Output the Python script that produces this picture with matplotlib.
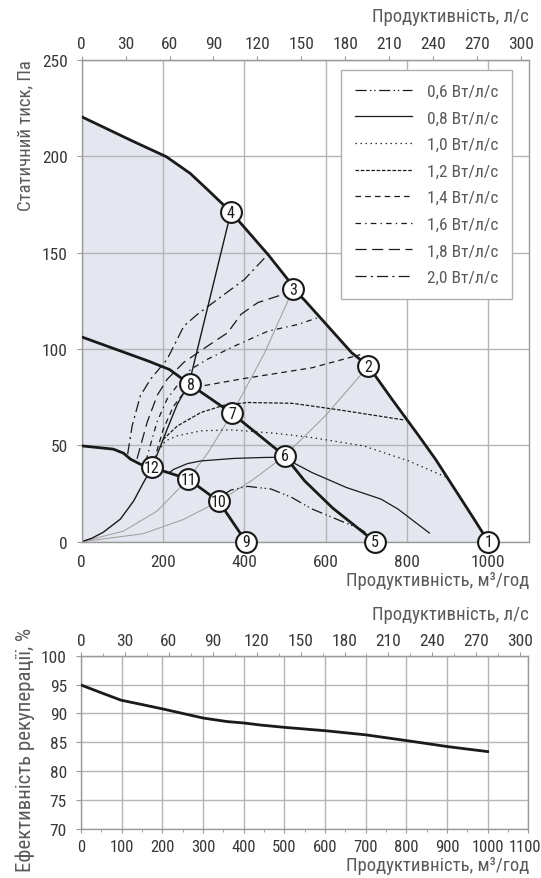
import matplotlib
matplotlib.use('Agg')
import matplotlib.pyplot as plt
from matplotlib import font_manager as fm
from matplotlib.ticker import MultipleLocator
from matplotlib.transforms import ScaledTranslation

# ---------------- font selection ----------------
_fl = fm.fontManager.ttflist
_names = {f.name for f in _fl}
_stretch = 'normal'
if 'Roboto Condensed' in _names:
    _font = 'Roboto Condensed'
elif 'Liberation Sans Narrow' in _names:
    _font = 'Liberation Sans Narrow'
elif any(f.name == 'DejaVu Sans' and f.stretch == 'condensed' for f in _fl):
    _font = 'DejaVu Sans'
    _stretch = 'condensed'
else:
    _font = 'Roboto'
plt.rcParams['font.family'] = [_font, 'DejaVu Sans']
plt.rcParams['font.stretch'] = _stretch
plt.rcParams['lines.scale_dashes'] = False

# ---------------- data ----------------
# upper envelope (max speed)
env1_x = [0, 123, 208, 267, 310, 367, 458, 507, 522, 548, 664, 705, 763, 829, 870, 965, 1000]
env1_y = [220.4, 208, 199.7, 191, 182.5, 171, 149, 136, 130.8, 125.3, 98, 91.1, 73.9, 54.9, 42.8, 11.7, 0]
# middle envelope
env2_x = [0, 165, 216, 266, 370, 499, 548, 617, 721]
env2_y = [106.2, 93.6, 89.3, 81.6, 66.5, 44.5, 31.6, 17.5, 0]
# lower envelope
env3_x = [0, 78, 103, 120, 144, 173, 262, 337, 404]
env3_y = [49.7, 48, 45.9, 42.8, 40.2, 38.5, 32.5, 20.9, 0]

# system curves (thin grey)
sys1_x = [0, 103, 186, 262, 310, 370, 450, 520]
sys1_y = [0, 5.5, 16, 32.5, 46, 66.5, 98, 131]
sys2_x = [0, 150, 250, 337, 420, 499, 600, 705]
sys2_y = [0, 4.1, 11.5, 20.9, 32, 44.5, 65.5, 91.1]
# thin black curve 12-8-4
sysb_x = [0, 25, 53, 95, 128, 152, 173, 210, 235, 264, 367]
sysb_y = [0, 1.8, 4.9, 11.7, 21.2, 30.7, 38.5, 58.3, 71.3, 82, 171]

# specific fan power lines
sfp_labels = ['0,6 Вт/л/с', '0,8 Вт/л/с', '1,0 Вт/л/с', '1,2 Вт/л/с',
              '1,4 Вт/л/с', '1,6 Вт/л/с', '1,8 Вт/л/с', '2,0 Вт/л/с']
sfp06_x = [350, 367, 408, 466, 516, 566, 685, 700]
sfp06_y = [24.5, 26.8, 28.7, 27.3, 23, 17, 6.6, 4.5]
sfp08_x = [215, 227, 260, 293, 375, 450, 499, 520, 566, 651, 736, 778, 855]
sfp08_y = [35.8, 37.6, 40.5, 41.9, 43.2, 43.7, 43.8, 41, 35.9, 28.1, 22.1, 16.9, 4.5]
sfp10_x = [195, 206, 235, 293, 367, 474, 566, 693, 804, 898]
sfp10_y = [49.0, 52.3, 54.9, 57.5, 58, 56.3, 54, 49.7, 41.9, 33.3]
sfp12_x = [200, 235, 293, 350, 408, 516, 566, 651, 791]
sfp12_y = [53.0, 60, 67, 70.8, 72.2, 71.8, 70.4, 67.8, 63.2]
sfp14_x = [178, 200, 225, 250, 270, 289, 395, 566, 685]
sfp14_y = [42, 58, 70, 77, 79.5, 80.5, 84.5, 90.2, 97]
sfp16_x = [158, 185, 210, 235, 268, 309, 375, 458, 532, 585]
sfp16_y = [42, 62, 74, 81, 89.4, 94.6, 101.4, 109.2, 112.7, 116.5]
sfp18_x = [136, 161, 186, 210, 251, 309, 359, 392, 433, 491, 520]
sfp18_y = [43, 62, 76, 84.2, 93, 101.4, 108.4, 118, 124, 128, 131]
sfp20_x = [113, 124, 144, 169, 210, 235, 251, 285, 400, 458]
sfp20_y = [45.4, 60, 75.6, 84.2, 94.6, 105, 111.8, 118, 136, 149]

# numbered operating points
pt_x = [1000, 705, 520, 367, 721, 499, 370, 266, 404, 337, 262, 173]
pt_y = [0, 91.1, 131, 171, 0, 44.5, 66.5, 81.6, 0, 20.9, 32.5, 38.5]
pt_lbl = ['1', '2', '3', '4', '5', '6', '7', '8', '9', '10', '11', '12']

# heat recovery efficiency
eff_x = [0, 47, 98.5, 153, 200, 244, 301, 359, 401, 441, 500, 603, 700, 801, 903, 1000]
eff_y = [94.93, 93.66, 92.3, 91.5, 90.8, 90.1, 89.2, 88.6, 88.35, 88.0, 87.6, 87.0, 86.3, 85.3, 84.25, 83.4]

pres_ticks = [0, 50, 100, 150, 200, 250]
flow_ticks_top = [0, 200, 400, 600, 800, 1000]
ls_ticks = list(range(0, 301, 30))
flow_ticks_bot = list(range(0, 1101, 100))
eff_ticks = [70, 75, 80, 85, 90, 95, 100]

label_ls = 'Продуктивність, л/с'
label_m3 = 'Продуктивність, м³/год'
label_p = 'Статичний тиск, Па'
label_eff = 'Ефективність рекуперації, %'

# ---------------- styles ----------------
GRID = '#b5b5b5'
SPINE = '#9a9a9a'
TXT = '#383838'
LAB = '#5a5a5a'
FILL = '#e4e7ef'
FS_TICK = 12.5
FS_LAB = 13.5

sfp_styles = [(0, (8, 2.5, 1, 2, 1, 2.5)), '-', (0, (1, 2.6)), (0, (2.6, 1.2)),
              (0, (4, 3)), (0, (4, 3, 1, 3)), (0, (8, 4)), (0, (8, 3, 1.5, 3))]

W, H = 541, 879
fig = plt.figure(figsize=(W / 100, H / 100), dpi=100)

# ---------------- top chart ----------------
ax = fig.add_axes([81.7 / W, 1 - 542.7 / H, 447.3 / W, 482 / H])
ax.set_xlim(0, 1100)
ax.set_ylim(0, 250)
ax.set_axisbelow(True)
ax.fill_between(env1_x, env1_y, 0, color=FILL, lw=0, zorder=0.2)
ax.set_xticks(flow_ticks_top)
ax.set_yticks(pres_ticks)
ax.grid(True, color=GRID, lw=1.0)
for s in ax.spines.values():
    s.set_color(SPINE)
    s.set_linewidth(1.0)
ax.tick_params(axis='x', length=0, pad=9, labelsize=FS_TICK, labelcolor=TXT)
ax.tick_params(axis='y', length=3.6, color=SPINE, pad=6.5, labelsize=FS_TICK, labelcolor=TXT)

ax.plot(sys1_x, sys1_y, color='#a0a0a0', lw=0.75, zorder=2)
ax.plot(sys2_x, sys2_y, color='#a0a0a0', lw=0.75, zorder=2)
ax.plot(sysb_x, sysb_y, color='#1a1a1a', lw=1.0, zorder=2)

sfp_x = [sfp06_x, sfp08_x, sfp10_x, sfp12_x, sfp14_x, sfp16_x, sfp18_x, sfp20_x]
sfp_y = [sfp06_y, sfp08_y, sfp10_y, sfp12_y, sfp14_y, sfp16_y, sfp18_y, sfp20_y]
handles = []
for xs, ys, st, lb in zip(sfp_x, sfp_y, sfp_styles, sfp_labels):
    h, = ax.plot(xs, ys, color='#1a1a1a', lw=0.9, ls=st, label=lb, zorder=3)
    handles.append(h)

for ex, ey in [(env1_x, env1_y), (env2_x, env2_y), (env3_x, env3_y)]:
    ax.plot(ex, ey, color='#1a1a1a', lw=2.0, zorder=4, solid_capstyle='round')

ax.plot(pt_x, pt_y, ls='none', marker='o', ms=15, mfc='white', mec='#1a1a1a',
        mew=1.5, zorder=5, clip_on=False)
for x, y, t in zip(pt_x, pt_y, pt_lbl):
    ax.text(x, y, t, ha='center', va='center', fontsize=11.5, color='#1a1a1a',
            zorder=6, clip_on=False)

leg = ax.legend(handles=handles, loc='upper right', bbox_to_anchor=(0.963, 0.979),
                borderaxespad=0, fancybox=False, frameon=True, edgecolor='#b0b0b0',
                facecolor='white', framealpha=1, fontsize=12.5, handlelength=3.3,
                handletextpad=0.85, labelspacing=0.66, borderpad=0.8)
leg.get_frame().set_linewidth(1.0)
for t in leg.get_texts():
    t.set_color(LAB)

sec = ax.secondary_xaxis('top', functions=(lambda v: v / 3.6, lambda v: v * 3.6))
sec.set_xticks(ls_ticks)
sec.tick_params(length=3, color=SPINE, pad=3.5, labelsize=FS_TICK, labelcolor=TXT)
sec.spines['top'].set_color(SPINE)

# ---------------- bottom chart ----------------
bx = fig.add_axes([81.0 / W, 1 - 830 / H, 447.3 / W, 173.3 / H])
bx.set_xlim(0, 1100)
bx.set_ylim(70, 100)
bx.set_axisbelow(True)
bx.set_xticks(flow_ticks_bot)
bx.set_yticks(eff_ticks)
bx.xaxis.set_minor_locator(MultipleLocator(50))
bx.grid(True, which='major', color=GRID, lw=1.0)
for s in bx.spines.values():
    s.set_color(SPINE)
    s.set_linewidth(1.0)
bx.tick_params(axis='x', which='major', length=3, color=SPINE, pad=4, labelsize=12, labelcolor=TXT)
bx.tick_params(axis='x', which='minor', length=2, color=SPINE)
bx.tick_params(axis='y', length=3.6, color=SPINE, pad=6.5, labelsize=FS_TICK, labelcolor=TXT)
bx.plot(eff_x, eff_y, color='#1a1a1a', lw=2.0, zorder=4)
last = bx.xaxis.get_major_ticks()[-1].label1
last.set_transform(last.get_transform() + ScaledTranslation(-2.5 / 72, 0, fig.dpi_scale_trans))

sec2 = bx.secondary_xaxis('top', functions=(lambda v: v / 3.6, lambda v: v * 3.6))
sec2.set_xticks(ls_ticks)
sec2.xaxis.set_minor_locator(MultipleLocator(15))
sec2.tick_params(which='major', length=3, color=SPINE, pad=2.5, labelsize=FS_TICK, labelcolor=TXT)
sec2.tick_params(which='minor', length=2, color=SPINE)
sec2.spines['top'].set_color(SPINE)

# ---------------- axis titles ----------------
RX = 529 / W
fig.text(RX, 1 - 17 / H, label_ls, ha='right', va='center', fontsize=FS_LAB, color=LAB)
fig.text(RX, 1 - 581.5 / H, label_m3, ha='right', va='center', fontsize=FS_LAB, color=LAB)
fig.text(RX, 1 - 615 / H, label_ls, ha='right', va='center', fontsize=FS_LAB, color=LAB)
fig.text(RX, 1 - 866 / H, label_m3, ha='right', va='center', fontsize=FS_LAB, color=LAB)
fig.text(25 / W, 1 - 60 / H, label_p, rotation=90, ha='center', va='top', fontsize=FS_LAB, color=LAB)
fig.text(25 / W, 1 - 750 / H, label_eff, rotation=90, ha='center', va='center', fontsize=15, color=LAB)

fig.savefig('out.png', dpi=100)
